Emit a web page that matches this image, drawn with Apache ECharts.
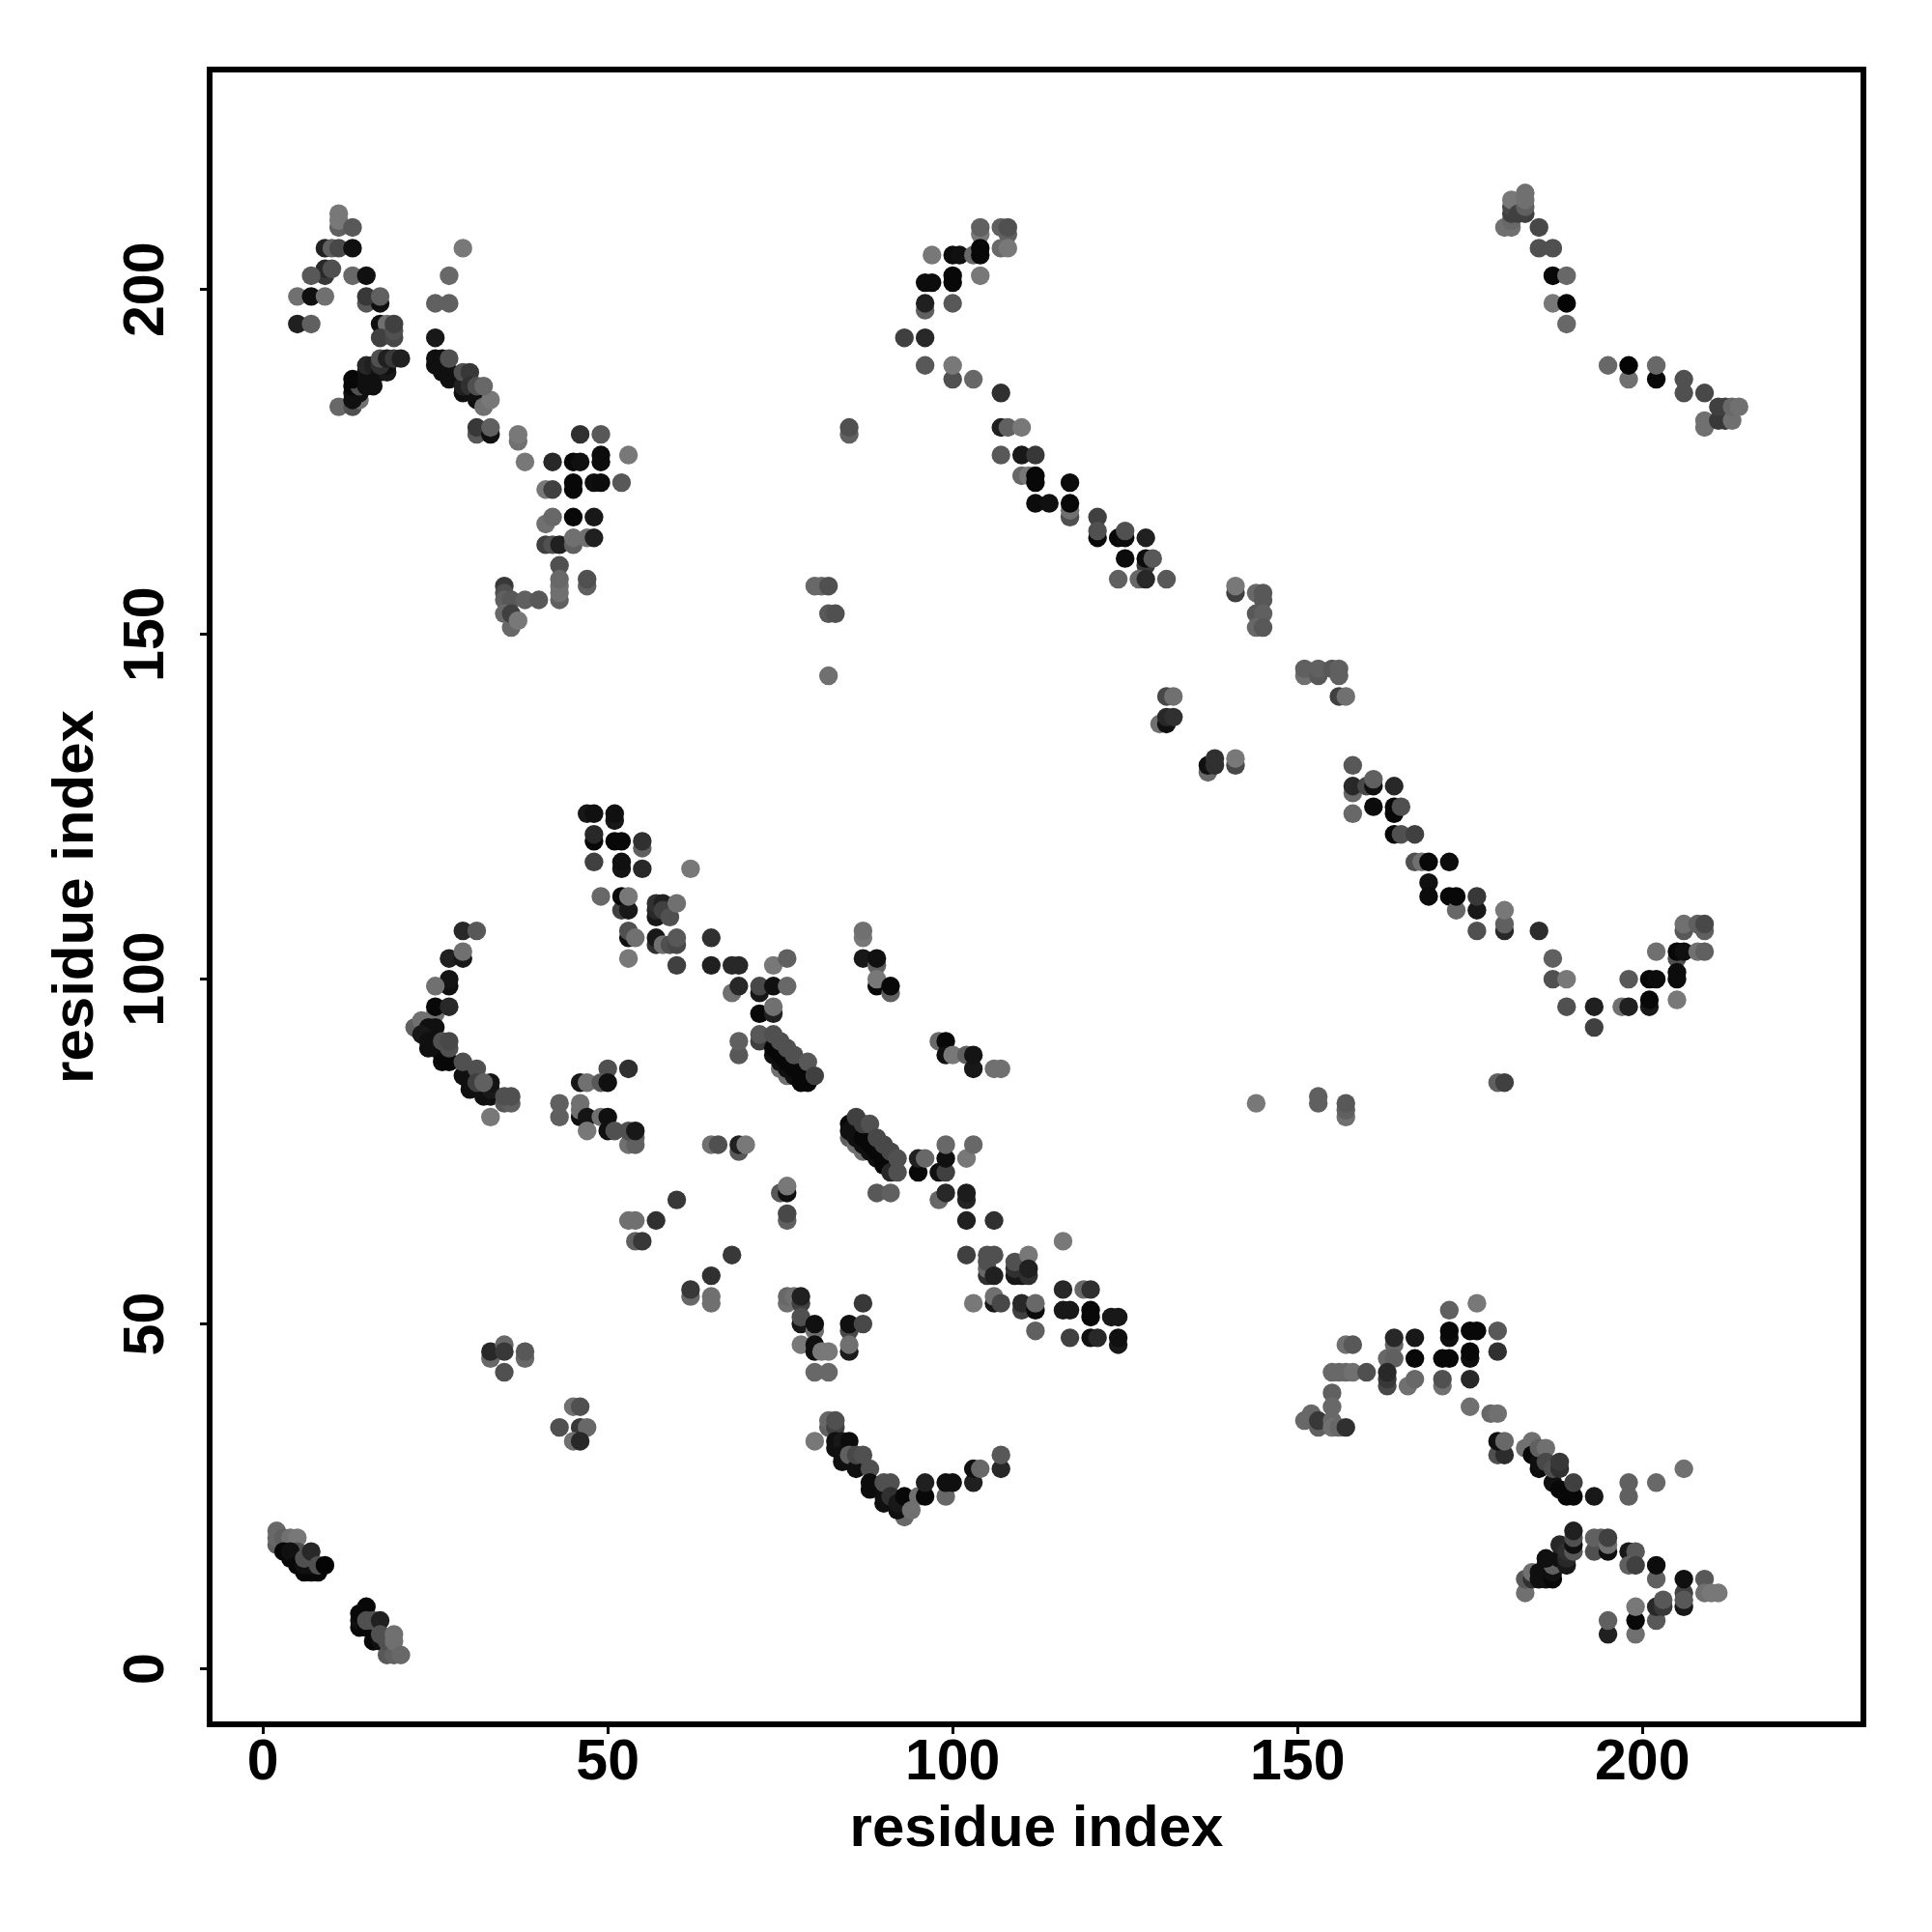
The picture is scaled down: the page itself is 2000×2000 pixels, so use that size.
<!DOCTYPE html>
<html><head><meta charset="utf-8"><style>html,body{margin:0;background:#fff}#c{width:2000px;height:2000px}</style>
<script src="https://cdn.jsdelivr.net/npm/echarts@6/dist/echarts.min.js"></script></head><body><div id="c"></div>
<script>
const tickValues = [0, 50, 100, 150, 200];
const axisTitle = 'residue index';
// each contact: [residue i, residue j, grey level]
const topLeft = [[11,209,0x60],[11,210,0x78],[11,211,0x78],[13,209,0x58],[9,206,0x20],[10,206,0x60],[11,206,0x48],[13,206,0x10],[9,202,0x38],[9,203,0x28],[10,203,0x50],[7,202,0x58],[13,202,0x68],[15,202,0x10],[5,199,0x70],[7,199,0x10],[9,199,0x70],[15,198,0x58],[17,198,0x10],[15,199,0x38],[17,199,0x60],[5,195,0x20],[7,195,0x60],[17,195,0x10],[18,195,0x70],[17,193,0x40],[19,193,0x48],[19,194,0x50],[19,195,0x40],
[11,183,0x68],[13,183,0x50],[14,184,0x70],[13,184,0x10],[13,185,0x10],[14,185,0x10],[13,186,0x08],[14,186,0x50],[13,187,0x08],[15,186,0x10],[16,186,0x10],[15,187,0x10],[15,188,0x10],[15,189,0x28],[16,189,0x20],[17,188,0x10],[18,188,0x18],[18,189,0x10],[17,189,0x30],[17,190,0x50],[18,190,0x20],[19,190,0x38],[20,190,0x20]];
const topLeftDiag = [[25,193,0x18],[25,198,0x60],[27,198,0x60],[27,202,0x68],[29,206,0x78],[25,189,0x10],[25,190,0x10],[26,189,0x10],[26,190,0x10],[26,188,0x10],[27,187,0x10],[27,188,0x10],[27,190,0x50],[29,185,0x10],[29,186,0x20],[29,188,0x50],[30,188,0x38],[30,186,0x30],[31,184,0x10],[31,186,0x50],[32,183,0x70],[33,184,0x78],[32,186,0x68],[31,179,0x58],[31,180,0x38],[33,179,0x10],[33,180,0x60],[37,178,0x70],[37,179,0x78],[38,175,0x78],[42,175,0x28],[45,175,0x08],[46,175,0x10],[49,175,0x0c],[49,176,0x0c],[53,176,0x78],[46,179,0x30],[49,179,0x58],[41,171,0x78],[42,171,0x40],[45,171,0x08],[45,172,0x08],[48,172,0x10],[49,172,0x0c],[52,172,0x58],[41,166,0x70],[42,167,0x68],[45,167,0x08],[48,167,0x18],[41,163,0x40],[42,163,0x50],[43,163,0x20],[45,163,0x60],[45,164,0x70],[47,164,0x70],[48,164,0x20],[43,160,0x50],[43,155,0x60],[43,156,0x70],[43,157,0x70],[43,158,0x68],[47,157,0x60],[47,158,0x50],[35,157,0x38],[35,156,0x50],[35,155,0x60],[36,155,0x58],[38,155,0x60],[40,155,0x58],[36,151,0x68],[35,153,0x68],[36,153,0x40],[37,152,0x78]];
const topMiddle = [[104,208,0x78],[104,209,0x60],[107,209,0x60],[108,208,0x60],[108,209,0x50],[107,206,0x68],[108,206,0x78],[97,205,0x78],[100,205,0x0c],[101,205,0x10],[103,205,0x68],[104,205,0x08],[104,206,0x08],[96,201,0x0c],[97,201,0x0c],[100,201,0x08],[100,202,0x08],[104,202,0x78],[96,197,0x60],[96,198,0x20],[100,198,0x58],[93,193,0x40],[96,193,0x28],[96,189,0x58],[100,187,0x50],[100,189,0x78],[103,187,0x68],[107,185,0x30],[85,179,0x60],[85,180,0x50],[107,180,0x20],[108,180,0x60],[110,180,0x78],[107,176,0x58],[110,176,0x18],[112,176,0x38],[110,173,0x68],[111,173,0x78],[112,172,0x08],[112,173,0x08],[117,172,0x0c],[112,169,0x0c],[114,169,0x10],[117,167,0x50],[117,168,0x70],[117,169,0x08],[121,167,0x40],[121,164,0x08],[121,165,0x50],[124,164,0x08],[125,164,0x0c],[125,165,0x50],[128,164,0x20],[125,161,0x0c],[128,160,0x38],[128,161,0x0c],[129,161,0x58],[124,158,0x60],[127,158,0x68],[128,158,0x28],[131,158,0x58],[141,156,0x40],[141,157,0x78],[144,156,0x68],[145,156,0x58],[145,155,0x58],[144,153,0x58],[145,153,0x60],[144,151,0x68],[145,151,0x58]];
const middleRun = [[80,157,0x68],[81,157,0x68],[82,157,0x50],[82,153,0x58],[83,153,0x50],[82,144,0x70],[151,144,0x70],[151,145,0x60],[153,144,0x58],[153,145,0x60],[155,145,0x58],[156,144,0x60],[156,145,0x60],[156,141,0x40],[157,141,0x70],[131,141,0x48],[132,141,0x70],[130,137,0x70],[131,137,0x10],[131,138,0x28],[132,138,0x30],[137,130,0x68],[137,131,0x10],[138,131,0x30],[138,132,0x30],[141,131,0x48],[141,132,0x78],[158,131,0x58],[158,127,0x68],[158,128,0x28],[160,128,0x48],[161,128,0x10],[161,129,0x60],[164,128,0x28],[161,125,0x0c],[164,124,0x08],[164,125,0x08],[165,125,0x50],[158,124,0x68],[164,121,0x08],[165,121,0x50],[167,121,0x40],[167,117,0x50],[168,117,0x70],[169,117,0x08],[172,117,0x0c],[169,114,0x10],[169,112,0x0c],[172,112,0x08],[173,110,0x68],[173,112,0x08],[176,110,0x18],[176,112,0x38],[176,107,0x50],[180,107,0x28],[180,108,0x60],[180,110,0x78],[185,107,0x2c]];
const rightArc = [[187,103,0x60],[187,100,0x50],[189,100,0x78],[189,96,0x50],[193,96,0x20],[193,93,0x40],[197,96,0x70],[198,96,0x20],[198,100,0x58],[201,96,0x18],[201,97,0x08],[201,100,0x08],[202,100,0x0c],[205,97,0x78],[202,104,0x70],[205,103,0x50],[205,100,0x0c],[205,101,0x0c],[205,104,0x08],[206,104,0x10],[208,104,0x70],[209,104,0x60],[206,107,0x58],[206,108,0x70],[208,108,0x60],[209,107,0x60],[209,108,0x48],[179,85,0x60],[180,85,0x40],[144,82,0x78],[153,82,0x60],[153,83,0x60],[157,80,0x70],[157,81,0x60],[157,82,0x58]];
const topRight = [[181,209,0x70],[180,209,0x70],[181,210,0x68],[181,211,0x40],[181,212,0x48],[181,213,0x78],[182,211,0x40],[183,211,0x40],[183,212,0x60],[183,213,0x70],[183,214,0x70],[185,209,0x48],[185,206,0x50],[187,206,0x50],[187,202,0x08],[189,202,0x68],[187,198,0x78],[189,198,0x04],[189,195,0x68],[195,189,0x68],[198,187,0x70],[198,189,0x04],[202,187,0x08],[202,189,0x68],[206,187,0x50],[206,185,0x50],[209,185,0x48],[209,180,0x70],[209,181,0x70],[211,181,0x38],[212,181,0x38],[211,183,0x40],[212,183,0x40],[213,181,0x70],[213,183,0x68],[214,183,0x70]];
const centerUpper = [[47,124,0x18],[48,124,0x10],[51,123,0x18],[51,124,0x10],[48,120,0x08],[48,121,0x28],[51,120,0x08],[52,120,0x08],[55,119,0x60],[55,120,0x30],[48,117,0x40],[52,116,0x14],[52,117,0x10],[55,116,0x28],[62,116,0x78],[49,112,0x68],[52,110,0x40],[52,112,0x08],[53,110,0x18],[53,112,0x78],[57,109,0x18],[57,110,0x28],[57,111,0x30],[58,111,0x20],[58,110,0x40],[59,109,0x50],[60,111,0x70],[53,106,0x10],[53,107,0x50],[54,106,0x70],[57,105,0x30],[57,106,0x18],[58,105,0x70],[59,105,0x50],[60,105,0x48],[60,106,0x58],[53,103,0x78],[60,102,0x40],[65,106,0x30],[65,102,0x20],[68,102,0x28],[69,102,0x28],[74,102,0x78],[76,103,0x60],[68,98,0x70],[69,99,0x28],[72,98,0x18],[72,99,0x48],[74,99,0x10],[76,99,0x68],[72,95,0x08],[74,95,0x20],[74,96,0x70],[69,89,0x58],[69,91,0x60],[72,91,0x40],[72,92,0x58]];
const centerRunA = [[75,87,0x70],[76,86,0x70],[74,89,0x10],[75,88,0x10],[76,87,0x10],[77,86,0x10],[78,85,0x08],[79,85,0x08],[74,90,0x08],[75,89,0x08],[76,88,0x08],[77,87,0x08],[78,86,0x08],[79,86,0x08],[74,92,0x50],[75,91,0x50],[76,90,0x50],[77,89,0x50],[79,88,0x58],[80,86,0x40]];
const leftArc = [[29,107,0x28],[31,107,0x58],[27,103,0x20],[29,103,0x18],[29,104,0x70],[27,99,0x10],[27,100,0x14],[25,99,0x70],[25,95,0x70],[25,96,0x08],[27,96,0x28],[22,93,0x60],[23,94,0x70],[24,93,0x10],[25,93,0x10],[23,92,0x18],[24,91,0x10],[24,90,0x10],[25,90,0x10],[26,89,0x10],[26,88,0x08],[27,88,0x08],[26,91,0x50],[27,90,0x50],[27,91,0x48],[29,86,0x10],[30,84,0x10],[30,85,0x10],[32,83,0x10],[33,83,0x10],[33,84,0x18],[33,85,0x14],[29,88,0x50],[31,87,0x50],[31,85,0x40],[32,85,0x60],[35,82,0x58],[36,82,0x60],[35,83,0x50],[36,83,0x50],[33,80,0x78]];
const centerLower = [[50,87,0x50],[53,87,0x30],[46,85,0x18],[47,85,0x70],[49,85,0x58],[50,85,0x10],[43,80,0x60],[43,82,0x60],[46,80,0x10],[46,81,0x70],[46,82,0x70],[47,80,0x14],[49,80,0x70],[50,80,0x10],[47,78,0x78],[50,78,0x10],[51,78,0x50],[53,76,0x70],[54,76,0x60],[54,77,0x60],[53,78,0x50],[54,78,0x18],[65,76,0x70],[66,76,0x50],[69,75,0x58],[69,76,0x20],[70,76,0x78],[75,69,0x58],[76,69,0x10],[76,70,0x78],[76,65,0x60],[76,66,0x48],[60,68,0x38],[53,65,0x70],[54,65,0x70],[57,65,0x30],[54,62,0x60],[55,62,0x38],[68,60,0x38],[65,57,0x30],[62,54,0x68],[62,55,0x38],[65,53,0x70],[65,54,0x70]];
const spots = [[87,106,0x78],[87,107,0x70],[87,103,0x18],[89,102,0x60],[89,103,0x10],[89,99,0x08],[89,100,0x78],[91,98,0x60],[91,99,0x08],[98,91,0x68],[99,91,0x08],[99,89,0x10],[100,89,0x78],[102,89,0x60],[103,87,0x18],[103,89,0x14],[106,87,0x70],[107,87,0x70]];
const centerRunB = [[85,77,0x60],[86,76,0x70],[87,75,0x70],[85,79,0x08],[85,78,0x10],[86,77,0x10],[87,76,0x10],[88,75,0x10],[89,74,0x10],[90,73,0x08],[86,78,0x10],[87,77,0x08],[88,76,0x08],[89,75,0x08],[90,74,0x08],[91,72,0x28],[86,80,0x40],[87,79,0x40],[88,79,0x50],[89,77,0x48],[90,76,0x48],[91,75,0x48],[92,74,0x50],[92,72,0x50]];
const lowerMiddle = [[95,72,0x08],[95,74,0x20],[96,74,0x68],[98,72,0x10],[99,72,0x40],[99,74,0x10],[99,76,0x68],[102,74,0x78],[103,76,0x68],[89,69,0x58],[91,69,0x60],[98,68,0x68],[99,69,0x28],[102,68,0x24],[102,69,0x1c],[102,65,0x20],[106,65,0x30],[102,60,0x40],[105,57,0x30],[105,58,0x68],[105,59,0x50],[105,60,0x50],[106,60,0x50],[106,57,0x20],[109,57,0x18],[110,57,0x18],[109,58,0x30],[109,59,0x50],[111,60,0x78],[111,57,0x30],[111,58,0x20],[116,62,0x78],[116,55,0x28],[119,55,0x68],[120,55,0x30],[103,53,0x78],[106,53,0x18],[106,54,0x70],[107,53,0x48],[110,52,0x40],[110,53,0x28],[112,52,0x0c],[112,53,0x68],[112,49,0x60],[116,52,0x18],[117,52,0x18],[120,51,0x08],[120,52,0x08],[123,51,0x18],[124,51,0x18],[117,48,0x40],[120,48,0x10],[121,48,0x28],[124,47,0x18],[124,48,0x10]];
const vShape = [[76,53,0x70],[76,54,0x68],[77,54,0x70],[78,53,0x40],[78,54,0x20],[78,50,0x18],[78,51,0x50],[80,49,0x70],[80,50,0x10],[78,47,0x78],[80,46,0x10],[80,47,0x10],[81,46,0x78],[82,46,0x78],[80,43,0x68],[82,43,0x68],[85,49,0x48],[85,50,0x10],[87,50,0x48],[87,53,0x38],[85,46,0x1c],[85,47,0x70]];
const lowerArc = [[82,35,0x60],[82,36,0x68],[83,35,0x40],[83,36,0x50],[80,33,0x78],[83,32,0x10],[83,33,0x10],[84,33,0x18],[85,33,0x0c],[84,30,0x10],[84,31,0x10],[85,31,0x60],[86,29,0x10],[86,31,0x48],[87,31,0x50],[88,29,0x50],[88,26,0x0c],[88,27,0x0c],[90,24,0x10],[90,25,0x10],[90,27,0x50],[91,27,0x50],[91,25,0x30],[93,22,0x68],[92,23,0x10],[92,24,0x18],[93,24,0x18],[93,25,0x08],[95,25,0x70],[94,23,0x70],[96,25,0x08],[96,27,0x20],[99,25,0x68],[99,27,0x10],[100,27,0x10],[103,27,0x20],[103,29,0x10],[104,29,0x68],[107,29,0x28],[107,31,0x58]];
const bottomRightA = [[172,52,0x60],[176,53,0x78],[172,48,0x10],[172,49,0x08],[175,49,0x08],[176,49,0x08],[179,49,0x58],[179,46,0x30],[175,45,0x10],[175,46,0x08],[171,45,0x08],[172,45,0x08],[171,41,0x70],[171,42,0x50],[175,42,0x28],[164,47,0x68],[164,48,0x28],[167,48,0x18],[167,45,0x08],[163,45,0x68],[164,45,0x60],[157,47,0x70],[158,47,0x58],[155,43,0x68],[156,43,0x68],[157,43,0x68],[158,43,0x70],[160,43,0x50],[163,41,0x48],[163,42,0x38],[163,43,0x28],[166,41,0x70],[167,42,0x68],[155,40,0x60],[155,38,0x68],[151,36,0x68],[152,37,0x68],[153,35,0x60],[153,36,0x38],[155,36,0x68],[155,35,0x70],[156,35,0x68],[157,35,0x30],[175,38,0x70],[178,37,0x68],[179,37,0x70]];
const bottomRightB = [[179,31,0x50],[180,31,0x2c],[179,33,0x10],[180,33,0x68],[183,32,0x70],[184,33,0x70],[184,31,0x08],[185,29,0x0c],[185,30,0x10],[185,32,0x60],[186,32,0x70],[186,30,0x48],[187,27,0x10],[187,29,0x50],[188,26,0x08],[188,29,0x30],[188,30,0x38],[189,25,0x08],[190,25,0x08],[190,27,0x40],[193,25,0x18],[198,25,0x60],[198,27,0x60],[202,27,0x68],[206,29,0x70]];
const bottomRightC = [[183,11,0x70],[183,13,0x58],[184,13,0x30],[184,14,0x70],[185,13,0x10],[185,14,0x10],[186,13,0x10],[186,14,0x10],[187,13,0x08],[187,14,0x10],[186,15,0x10],[187,15,0x60],[186,16,0x10],[188,16,0x10],[188,18,0x28],[189,15,0x18],[189,16,0x28],[189,17,0x30],[190,17,0x58],[190,18,0x10],[190,19,0x50],[190,20,0x20],[193,17,0x50],[193,19,0x60],[194,19,0x60],[195,17,0x10],[195,18,0x70],[195,19,0x40],[198,17,0x18],[199,17,0x58],[198,15,0x60],[199,15,0x40],[202,13,0x60],[202,15,0x0c],[206,9,0x18],[206,11,0x40],[206,10,0x58],[206,13,0x10],[209,13,0x58],[209,11,0x70],[210,11,0x78],[211,11,0x78],[202,7,0x58],[202,9,0x28],[203,9,0x38],[203,10,0x58],[199,5,0x70],[199,7,0x08],[199,9,0x78],[195,5,0x20],[195,7,0x60]];
const leftSpots = [[33,45,0x68],[33,46,0x28],[35,47,0x68],[35,46,0x38],[38,45,0x68],[38,46,0x58],[35,43,0x50],[45,38,0x70],[46,38,0x50],[43,35,0x50],[46,35,0x38],[47,35,0x68],[45,33,0x70],[46,33,0x28]];
const bottomLeft = [[2,18,0x60],[2,19,0x68],[2,20,0x68],[3,19,0x60],[4,18,0x50],[4,19,0x70],[5,19,0x78],[5,17,0x50],[3,17,0x08],[4,16,0x08],[4,17,0x10],[5,15,0x08],[6,14,0x08],[7,14,0x08],[8,14,0x08],[6,15,0x10],[7,15,0x10],[6,16,0x50],[7,17,0x28],[8,15,0x50],[9,15,0x04],[14,6,0x08],[14,7,0x10],[14,8,0x08],[15,6,0x08],[15,9,0x08],[15,7,0x50],[16,4,0x08],[16,7,0x50],[17,4,0x10],[17,7,0x20],[17,5,0x50],[18,2,0x58],[18,4,0x50],[19,2,0x60],[19,4,0x70],[19,5,0x70],[20,2,0x68]];

const contacts = [].concat(topLeft, topLeftDiag, topMiddle, middleRun, rightArc, topRight, centerUpper, centerRunA, leftArc, centerLower, spots, centerRunB, lowerMiddle, vShape, lowerArc, bottomRightA, bottomRightB, bottomRightC, leftSpots, bottomLeft);
const grey = g => 'rgb(' + g + ',' + g + ',' + g + ')';
const font = 'Liberation Sans';
function axis(extra){
  return Object.assign({
    type:'value', splitLine:{show:false}, axisLine:{show:false,onZero:false},
    name:axisTitle, nameLocation:'middle', nameMoveOverlap:false,
    nameTextStyle:{fontFamily:font,fontWeight:'bold',fontSize:60,color:'#000'},
    axisTick:{show:true,length:10,customValues:tickValues,lineStyle:{color:'#000',width:3}}
  },extra);
}
const chart = echarts.init(document.getElementById('c'),null,{renderer:'canvas'});
chart.setOption({
  animation:false, backgroundColor:'#fff',
  grid:{left:217,right:71,top:72,bottom:215,show:true,borderColor:'#000',borderWidth:6,backgroundColor:'transparent'},
  xAxis:axis({min:-7.72,max:232.03,nameGap:79,
    axisLabel:{customValues:tickValues,margin:11,fontFamily:font,fontWeight:'bold',fontSize:59,color:'#000'}}),
  yAxis:axis({min:-8.05,max:231.9,nameGap:108,
    axisLabel:{customValues:tickValues,margin:64,rotate:90,fontFamily:font,fontWeight:'bold',fontSize:59,color:'#000',verticalAlign:'middle',align:'center'}}),
  series:[{type:'scatter',symbol:'circle',symbolSize:19.4,large:false,silent:true,
    data:contacts,
    itemStyle:{opacity:1,color:p=>grey(p.value[2])}}]
});
</script></body></html>
